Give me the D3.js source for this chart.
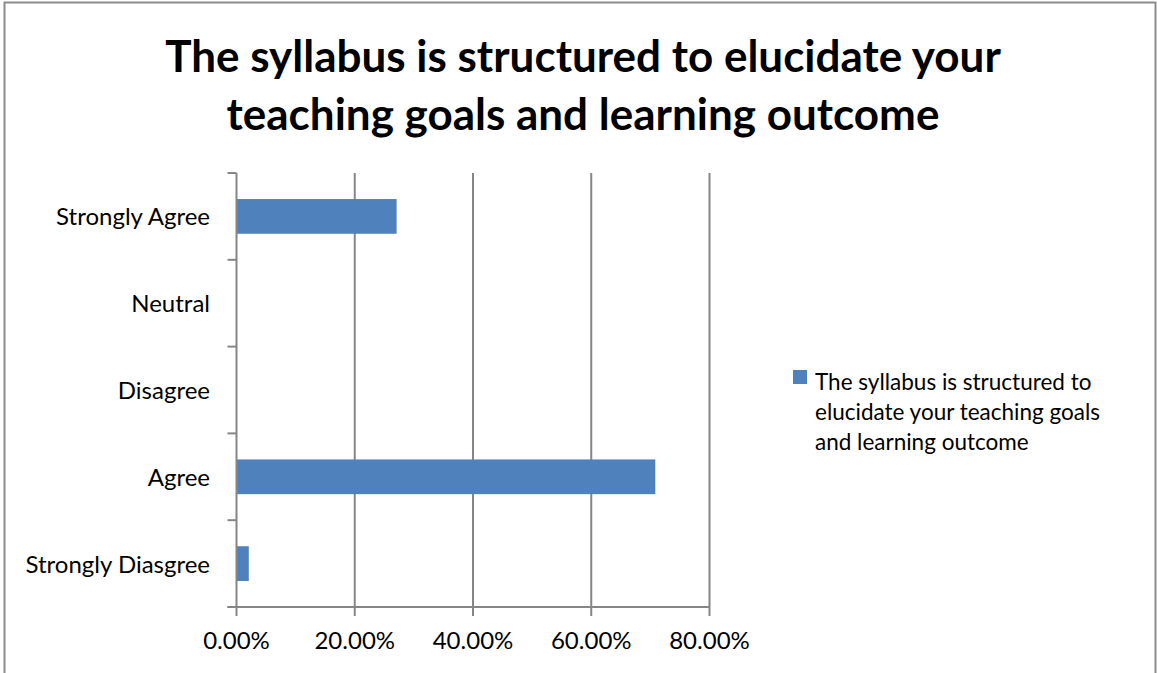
<!DOCTYPE html>
<html>
<head>
<meta charset="utf-8">
<script src="https://cdn.jsdelivr.net/npm/d3@7"></script>
<style>
  html, body { margin: 0; padding: 0; background: #fff; }
  svg { display: block; }
  text { font-family: "Lato", "Open Sans", sans-serif; fill: #000; }
</style>
</head>
<body>
<svg id="chart" width="1157" height="673"></svg>
<script>
// Survey responses, top to bottom as listed on the axis
const categories = ["Strongly Agree", "Neutral", "Disagree", "Agree", "Strongly Diasgree"];
const shares = [27.08, 0, 0, 70.83, 2.08];
const xTicks = [0, 20, 40, 60, 80];
const titleLines = ["The syllabus is structured to elucidate your", "teaching goals and learning outcome"];
const legendLines = ["The syllabus is structured to", "elucidate your teaching goals", "and learning outcome"];

const svg = d3.select("#chart");
const barColor = "#4f81bd";
const gridColor = "#868686";

// outer frame
svg.append("rect")
  .attr("x", 4.5).attr("y", 2.5)
  .attr("width", 1151).attr("height", 680)
  .attr("fill", "none").attr("stroke", "#8c8c8c").attr("stroke-width", 2);

// title
const title = svg.append("text").attr("text-anchor", "middle")
  .style("font-weight", "bold").style("font-size", "44px");
title.selectAll("tspan").data(titleLines).join("tspan")
  .attr("x", 583).attr("y", (d, i) => 72 + i * 58).text(d => d);

const plot = { left: 236.5, right: 709.5, top: 173, bottom: 607 };

const x = d3.scaleLinear().domain([0, 80]).range([plot.left, plot.right]);
const y = d3.scaleBand().domain(categories).range([plot.top, plot.bottom]).paddingInner(0.6).paddingOuter(0.3);
const yEdges = d3.scaleLinear().domain([0, categories.length]).range([plot.top, plot.bottom]);

// vertical gridlines
svg.append("g").selectAll("line").data(xTicks.slice(1)).join("line")
  .attr("x1", d => x(d)).attr("x2", d => x(d))
  .attr("y1", plot.top).attr("y2", plot.bottom)
  .attr("stroke", gridColor).attr("stroke-width", 2);

// bars
svg.append("g").selectAll("rect").data(categories).join("rect")
  .attr("x", x(0))
  .attr("y", d => y(d))
  .attr("width", (d, i) => x(shares[i]) - x(0))
  .attr("height", y.bandwidth())
  .attr("fill", barColor);

// category axis with ticks at band edges
const yAxisG = svg.append("g");
yAxisG.append("line")
  .attr("x1", plot.left).attr("x2", plot.left)
  .attr("y1", plot.top).attr("y2", plot.bottom)
  .attr("stroke", gridColor).attr("stroke-width", 2);
yAxisG.selectAll("line.tick").data(d3.range(categories.length + 1)).join("line")
  .attr("class", "tick")
  .attr("x1", plot.left - 9).attr("x2", plot.left)
  .attr("y1", d => yEdges(d)).attr("y2", d => yEdges(d))
  .attr("stroke", gridColor).attr("stroke-width", 2);
yAxisG.selectAll("text").data(categories).join("text")
  .attr("x", 210).attr("y", d => y(d) + y.bandwidth() / 2 + 9)
  .attr("text-anchor", "end").style("font-size", "24px")
  .text(d => d);

// value axis
const xAxisG = svg.append("g");
xAxisG.append("line")
  .attr("x1", plot.left - 9).attr("x2", plot.right)
  .attr("y1", plot.bottom).attr("y2", plot.bottom)
  .attr("stroke", gridColor).attr("stroke-width", 2);
xAxisG.selectAll("line.tick").data(xTicks).join("line")
  .attr("class", "tick")
  .attr("x1", d => x(d)).attr("x2", d => x(d))
  .attr("y1", plot.bottom).attr("y2", plot.bottom + 9)
  .attr("stroke", gridColor).attr("stroke-width", 2);
xAxisG.selectAll("text").data(xTicks).join("text")
  .attr("x", d => x(d)).attr("y", 649)
  .attr("text-anchor", "middle").style("font-size", "24px")
  .text(d => d.toFixed(2) + "%");

// legend
const legend = svg.append("g");
legend.append("rect")
  .attr("x", 793).attr("y", 370).attr("width", 14).attr("height", 14)
  .attr("fill", barColor);
legend.append("text").style("font-size", "22.5px")
  .selectAll("tspan").data(legendLines).join("tspan")
  .attr("x", 815).attr("y", (d, i) => 390 + i * 30).text(d => d);
</script>
</body>
</html>
